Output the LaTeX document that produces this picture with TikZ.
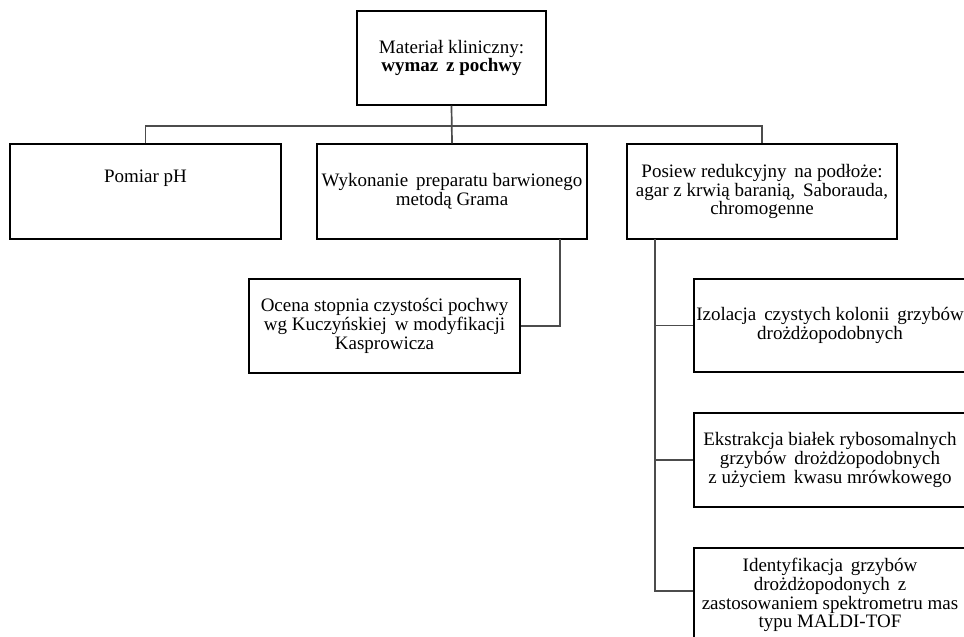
\documentclass[tikz,border=0pt]{standalone}
\usepackage{fontspec}
\setmainfont{Liberation Serif}
\begin{document}
\begin{tikzpicture}[x=1pt,y=-1pt,
  box/.style={draw=black,line width=1.4pt,inner sep=0pt,align=center,fill=white,
    font=\fontsize{19}{18.8}\selectfont},
  plain/.style={inner sep=0pt,align=center,font=\fontsize{19}{18.8}\selectfont},
  conn/.style={draw=black!70,line width=1.7pt}]
\useasboundingbox (0,0) rectangle (964,637);
\clip (0,0) rectangle (964,637);
\fill[white] (0,0) rectangle (964,637);

\coordinate (bus) at (452,126);
\coordinate (wykdrop) at (560,239);
\coordinate (trunk) at (655,239);

\node[box,minimum width=189pt,minimum height=94pt] (top) at (451.5,58)
  {Materiał kliniczny:\\\textbf{wymaz\, z pochwy}};
\node[box,minimum width=271pt,minimum height=95pt] (ph) at (145.5,191.5) {};
\node[plain] (phT) at (145.5,178) {Pomiar pH};
\node[box,minimum width=270pt,minimum height=95pt] (wyk) at (452,191.5)
  {Wykonanie\, preparatu barwionego\\metodą Grama};
\node[box,minimum width=270pt,minimum height=95pt] (pos) at (762,191.5)
  {Posiew redukcyjny\, na podłoże:\\agar z krwią baranią,\, Saborauda,\\chromogenne};
\node[box,minimum width=271pt,minimum height=94pt] (oc) at (384.5,326)
  {Ocena stopnia czystości pochwy\\wg Kuczyńskiej\, w modyfikacji\\Kasprowicza};
\node[box,minimum width=272pt,minimum height=93pt] (iz) at (830,325.5)
  {Izolacja\, czystych kolonii\, grzybów\\drożdżopodobnych};
\node[box,minimum width=272pt,minimum height=94pt] (ek) at (830,460)
  {Ekstrakcja białek rybosomalnych\\grzybów\, drożdżopodobnych\\z użyciem\, kwasu mrówkowego};
\node[box,minimum width=272pt,minimum height=94pt] (id) at (830,595)
  {Identyfikacja\, grzybów\\drożdżopodonych\, z\\zastosowaniem spektrometru mas\\typu MALDI-TOF};

\draw[conn] (top.south) -- (wyk.north);
\draw[conn] (ph.north) -- (ph.north |- bus) -- (pos.north |- bus) -- (pos.north);
\draw[conn] (wykdrop) |- (oc.east);
\draw[conn] (trunk) |- (iz.west);
\draw[conn] (trunk) |- (ek.west);
\draw[conn] (trunk) |- ([yshift=4pt]id.west);
\end{tikzpicture}
\end{document}
